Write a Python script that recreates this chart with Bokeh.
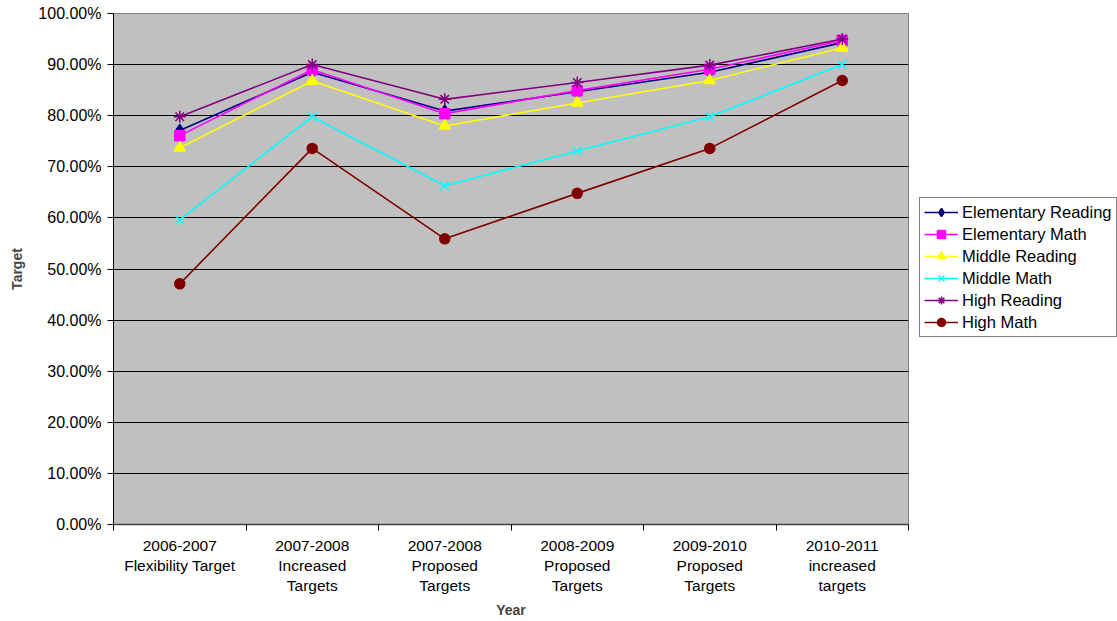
from bokeh.plotting import figure
from bokeh.models import FixedTicker, NumeralTickFormatter, Legend
from bokeh.embed import file_html
from bokeh.resources import INLINE

categories = ["2006-2007\nFlexibility Target", "2007-2008\nIncreased\nTargets",
              "2007-2008\nProposed\nTargets", "2008-2009\nProposed\nTargets",
              "2009-2010\nProposed\nTargets", "2010-2011\nincreased\ntargets"]
elementary_reading = [0.771, 0.885, 0.809, 0.847, 0.885, 0.943]
elementary_math = [0.761, 0.890, 0.804, 0.849, 0.891, 0.947]
middle_reading = [0.737, 0.868, 0.780, 0.825, 0.869, 0.933]
middle_math = [0.596, 0.798, 0.663, 0.731, 0.798, 0.900]
high_reading = [0.798, 0.900, 0.832, 0.865, 0.899, 0.950]
high_math = [0.471, 0.736, 0.559, 0.648, 0.736, 0.869]
y_ticks = [0.0, 0.1, 0.2, 0.3, 0.4, 0.5, 0.6, 0.7, 0.8, 0.9, 1.0]

FONT = "Liberation Sans"
xs = [i + 0.5 for i in range(len(categories))]

p = figure(frame_width=795, frame_height=511, output_backend="svg", toolbar_location=None,
           x_range=(0, len(categories)), y_range=(0, 1),
           min_border_left=113, min_border_right=0, min_border_top=13, min_border_bottom=97)
p.background_fill_color = "#C0C0C0"
p.border_fill_color = "white"
p.outline_line_color = "#808080"
p.outline_line_width = 1

series = [
    ("Elementary Reading", elementary_reading, "#000080", "diamond", 12),
    ("Elementary Math", elementary_math, "#FF00FF", "square", 10),
    ("Middle Reading", middle_reading, "#FFFF00", "triangle", 11),
    ("Middle Math", middle_math, "#00FFFF", "x", 12),
    ("High Reading", high_reading, "#800080", "asterisk", 12),
    ("High Math", high_math, "#800000", "circle", 10),
]
items = []
for name, vals, col, mk, sz in series:
    l = p.line(xs, vals, line_color=col, line_width=1.6)
    s = p.scatter(xs, vals, marker=mk, size=sz, fill_color=col, line_color=col, line_width=1.5)
    items.append((name, [l, s]))

legend = Legend(items=items, location=(11, 187))
legend.label_text_font = FONT
legend.label_text_font_size = "16.5px"
legend.label_text_color = "black"
legend.glyph_width = 34
legend.glyph_height = 20
legend.label_height = 20
legend.label_standoff = 4
legend.spacing = 2
legend.padding = 4
legend.margin = 0
legend.border_line_color = "black"
legend.border_line_width = 1
legend.background_fill_color = "white"
legend.background_fill_alpha = 1
p.add_layout(legend, "right")

# y axis
p.yaxis.ticker = FixedTicker(ticks=y_ticks)
p.yaxis.formatter = NumeralTickFormatter(format="0.00%")
p.yaxis.major_label_text_font = FONT
p.yaxis.major_label_text_font_size = "16px"
p.yaxis.major_label_text_color = "black"
p.yaxis.major_tick_out = 6
p.yaxis.major_tick_in = 0
p.yaxis.minor_tick_line_color = None
p.yaxis.axis_line_color = "black"
p.yaxis.major_tick_line_color = "black"
p.yaxis.major_label_standoff = 6
p.yaxis.axis_label = "Target"
p.yaxis.axis_label_text_font = FONT
p.yaxis.axis_label_text_font_size = "14px"
p.yaxis.axis_label_text_font_style = "bold"
p.yaxis.axis_label_standoff = 10

# x axis
p.xaxis.ticker = FixedTicker(ticks=xs, minor_ticks=list(range(len(categories) + 1)))
p.xaxis.major_label_overrides = {x: c for x, c in zip(xs, categories)}
p.xaxis.major_label_text_font = FONT
p.xaxis.major_label_text_font_size = "15.5px"
p.xaxis.major_label_text_color = "black"
p.xaxis.major_tick_out = 0
p.xaxis.major_tick_in = 0
p.xaxis.minor_tick_out = 6
p.xaxis.minor_tick_in = 0
p.xaxis.minor_tick_line_color = "black"
p.xaxis.axis_line_color = "#404040"
p.xaxis.axis_line_width = 1.5
p.xaxis.major_label_standoff = 6
p.xaxis.axis_label = "Year"
p.xaxis.axis_label_text_font = FONT
p.xaxis.axis_label_text_font_size = "14px"
p.xaxis.axis_label_text_font_style = "bold"
p.xaxis.axis_label_standoff = 5

p.xgrid.grid_line_color = None
p.ygrid.ticker = FixedTicker(ticks=y_ticks)
p.ygrid.grid_line_color = "black"
p.ygrid.grid_line_width = 1

open("out.html", "w").write(file_html(p, INLINE))
